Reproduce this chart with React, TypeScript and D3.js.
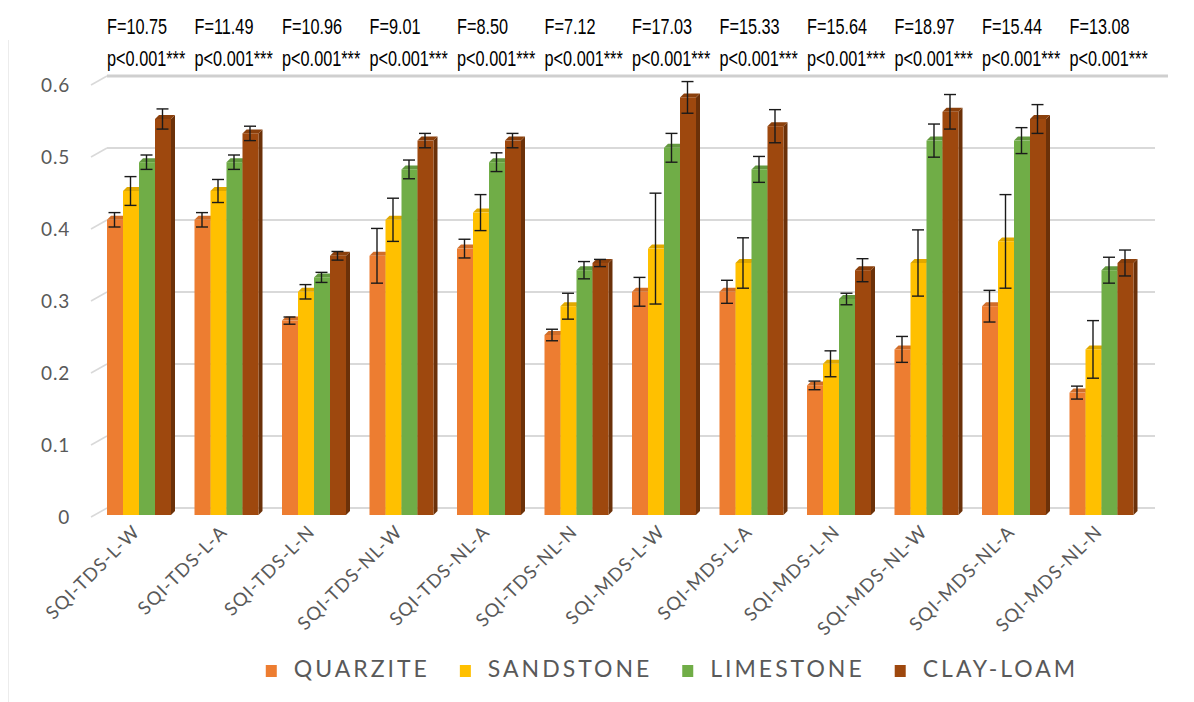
import * as d3 from "d3";
import { useEffect, useRef } from "react";

const categories = [
  "SQI-TDS-L-W", "SQI-TDS-L-A", "SQI-TDS-L-N", "SQI-TDS-NL-W", "SQI-TDS-NL-A", "SQI-TDS-NL-N",
  "SQI-MDS-L-W", "SQI-MDS-L-A", "SQI-MDS-L-N", "SQI-MDS-NL-W", "SQI-MDS-NL-A", "SQI-MDS-NL-N",
];
const seriesNames = ["QUARZITE", "SANDSTONE", "LIMESTONE", "CLAY-LOAM"];
const seriesColors = ["#ED7D31", "#FFC000", "#70AD47", "#9E480E"];

const quarzite = [0.41, 0.41, 0.27, 0.36, 0.37, 0.25, 0.31, 0.31, 0.18, 0.23, 0.29, 0.17];
const sandstone = [0.45, 0.45, 0.31, 0.41, 0.42, 0.29, 0.37, 0.35, 0.21, 0.35, 0.38, 0.23];
const limestone = [0.49, 0.49, 0.33, 0.48, 0.49, 0.34, 0.51, 0.48, 0.30, 0.52, 0.52, 0.34];
const clayLoam = [0.55, 0.53, 0.36, 0.52, 0.52, 0.35, 0.58, 0.54, 0.34, 0.56, 0.55, 0.35];

const quarziteErr = [0.01, 0.01, 0.005, 0.038, 0.013, 0.008, 0.02, 0.016, 0.006, 0.018, 0.022, 0.009];
const sandstoneErr = [0.02, 0.016, 0.01, 0.03, 0.025, 0.018, 0.077, 0.035, 0.018, 0.046, 0.065, 0.04];
const limestoneErr = [0.01, 0.01, 0.007, 0.013, 0.013, 0.012, 0.02, 0.018, 0.008, 0.023, 0.018, 0.018];
const clayLoamErr = [0.014, 0.01, 0.006, 0.01, 0.01, 0.005, 0.022, 0.023, 0.016, 0.024, 0.02, 0.018];

const fValues = ["10.75", "11.49", "10.96", "9.01", "8.50", "7.12", "17.03", "15.33", "15.64", "18.97", "15.44", "13.08"];
const pLabel = "p<0.001***";
const yTicks = [0, 0.1, 0.2, 0.3, 0.4, 0.5, 0.6];

const W = 1194;
const H = 702;

export default function App() {
  const svgRef = useRef<SVGSVGElement>(null);

  useEffect(() => {
    const svg = d3.select(svgRef.current);
    svg.selectAll("*").remove();

    const values = [quarzite, sandstone, limestone, clayLoam];
    const errors = [quarziteErr, sandstoneErr, limestoneErr, clayLoamErr];

    const x = d3.scaleBand().domain(categories).range([95.25, 1145.25])
      .paddingInner(0.2686).paddingOuter(0.1343);
    const xs = d3.scaleBand().domain(seriesNames).range([0, x.bandwidth()]);
    const y = d3.scaleLinear([0, 0.6], [515, 83]);
    const depth = 4;
    const wallDx = 16, wallDy = 9;
    const grey = "#595959";

    // faint chart border
    svg.append("line").attr("x1", 8.5).attr("x2", 8.5).attr("y1", 40).attr("y2", H)
      .attr("stroke", "#ececec").attr("stroke-width", 1);

    // gridlines on back wall + side wall
    const grid = svg.append("g");
    yTicks.forEach((t) => {
      const top = t === 0.6;
      const gy = y(t) - 7;
      grid.append("line")
        .attr("x1", 107 - wallDx).attr("y1", gy + wallDy)
        .attr("x2", 107).attr("y2", gy)
        .attr("stroke", "#d9d9d9").attr("stroke-width", 1.5);
      grid.append("line")
        .attr("x1", 107).attr("y1", gy)
        .attr("x2", top ? 1168 : 1155).attr("y2", gy)
        .attr("stroke", top ? "#cfcfcf" : "#d9d9d9").attr("stroke-width", top ? 3 : 2);
      svg.append("text")
        .attr("x", 70).attr("y", y(t) + 4)
        .attr("text-anchor", "end").attr("dominant-baseline", "middle")
        .attr("fill", grey).attr("font-family", "Lato, 'Open Sans', sans-serif")
        .attr("font-size", 19).attr("letter-spacing", 0.8)
        .text(String(t));
    });

    // bars
    const bars = svg.append("g");
    categories.forEach((c, i) => {
      seriesNames.forEach((s, k) => {
        const v = values[k][i];
        const bx = (x(c) as number) + (xs(s) as number);
        const bw = xs.bandwidth();
        const by = y(v);
        const b0 = y(0);
        const col = d3.color(seriesColors[k])!;
        bars.append("polygon")
          .attr("points", [[bx + bw, by], [bx + bw + depth, by - depth], [bx + bw + depth, b0 - depth], [bx + bw, b0]].map((p) => p.join(",")).join(" "))
          .attr("fill", col.darker(1.1).formatHex());
        bars.append("polygon")
          .attr("points", [[bx, by], [bx + depth, by - depth], [bx + bw + depth, by - depth], [bx + bw, by]].map((p) => p.join(",")).join(" "))
          .attr("fill", col.darker(0.35).formatHex());
        bars.append("rect")
          .attr("x", bx).attr("y", by).attr("width", bw).attr("height", b0 - by)
          .attr("fill", seriesColors[k]);
      });
    });

    // error bars
    const err = svg.append("g").attr("stroke", "#1a1a1a").attr("stroke-width", 1.4);
    categories.forEach((c, i) => {
      seriesNames.forEach((s, k) => {
        const v = values[k][i];
        const e = errors[k][i];
        const cx = (x(c) as number) + (xs(s) as number) + xs.bandwidth() / 2 - 0.5;
        const y1 = y(v + e), y2 = y(v - e);
        err.append("line").attr("x1", cx).attr("x2", cx).attr("y1", y1).attr("y2", y2);
        err.append("line").attr("x1", cx - 6).attr("x2", cx + 6).attr("y1", y1).attr("y2", y1);
        err.append("line").attr("x1", cx - 6).attr("x2", cx + 6).attr("y1", y2).attr("y2", y2);
      });
    });

    // category labels
    categories.forEach((c) => {
      const cx = (x(c) as number) + x.bandwidth() / 2 + 2;
      svg.append("text")
        .attr("transform", `translate(${cx},${533}) rotate(-45)`)
        .attr("text-anchor", "end")
        .attr("fill", grey).attr("font-family", "Lato, 'Open Sans', sans-serif")
        .attr("font-size", 18.5).attr("letter-spacing", 1.1)
        .text(c);
    });

    // F / p annotations (narrow font emulated with a horizontal squeeze)
    const ann = svg.append("g").attr("fill", "#000")
      .attr("font-family", "'Liberation Sans', Arial, sans-serif")
      .attr("font-size", 22);
    categories.forEach((c, i) => {
      const ax = x(c) as number;
      ann.append("text").attr("transform", `translate(${ax},34) scale(0.74,1)`).text(`F=${fValues[i]}`);
      ann.append("text").attr("transform", `translate(${ax},66) scale(0.74,1)`).text(pLabel);
    });

    // legend
    const leg = svg.append("g");
    const items = seriesNames.map((s, k) => {
      const g = leg.append("g");
      g.append("rect").attr("x", 0).attr("y", -6).attr("width", 11).attr("height", 12)
        .attr("fill", seriesColors[k]);
      const t = g.append("text").attr("x", 28).attr("y", 0)
        .attr("dominant-baseline", "middle")
        .attr("fill", grey).attr("font-family", "Lato, 'Open Sans', sans-serif")
        .attr("font-size", 23).attr("letter-spacing", 3)
        .text(s);
      const len = (t.node() as SVGTextElement).getComputedTextLength();
      return { g, w: 28 + len };
    });
    const gap = 30;
    const total = d3.sum(items, (d) => d.w) + gap * (items.length - 1);
    let lx = 672 - total / 2;
    items.forEach((it) => {
      it.g.attr("transform", `translate(${lx},${671})`);
      lx += it.w + gap;
    });
  }, []);

  return (
    <svg ref={svgRef} width={W} height={H}
      style={{ position: "absolute", left: 0, top: 0, background: "#fff" }} />
  );
}
